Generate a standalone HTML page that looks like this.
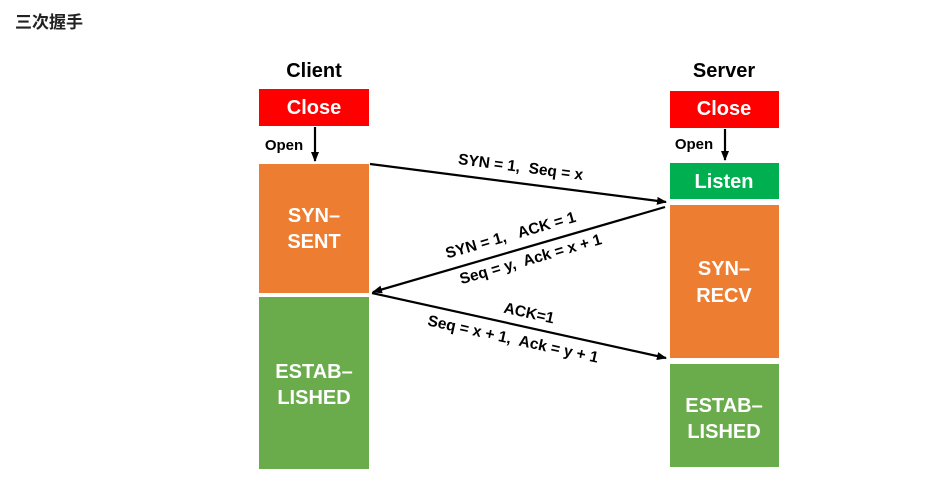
<!DOCTYPE html>
<html><head><meta charset="utf-8"><style>
body{margin:0;background:#fff;width:939px;height:478px;overflow:hidden}
text{white-space:pre}
</style></head><body>
<svg width="939" height="478" xmlns="http://www.w3.org/2000/svg" font-family="Liberation Sans, Noto Sans CJK SC, sans-serif">
<defs><marker id="a" markerWidth="10" markerHeight="8" refX="9" refY="4" orient="auto" markerUnits="userSpaceOnUse"><path d="M0,0 L10,4 L0,8 z" fill="#000"/></marker></defs>
<text x="15" y="28" font-size="17" font-weight="bold" fill="#222">三次握手</text>
<text x="314" y="77" font-size="20" text-anchor="middle" font-weight="bold">Client</text>
<text x="724" y="77" font-size="20" text-anchor="middle" font-weight="bold">Server</text>
<g font-weight="bold" fill="#fff" text-anchor="middle">
<rect x="259" y="89" width="110" height="37" fill="#ff0000"/><text x="314" y="114" font-size="20">Close</text>
<rect x="259" y="164" width="110" height="129" fill="#ed7d31"/><text x="314" y="222" font-size="20">SYN–</text><text x="314" y="248" font-size="20">SENT</text>
<rect x="259" y="297" width="110" height="172" fill="#6aac4c"/><text x="314" y="378" font-size="20">ESTAB–</text><text x="314" y="404" font-size="20">LISHED</text>
<rect x="670" y="91" width="109" height="37" fill="#ff0000"/><text x="724" y="115" font-size="20">Close</text>
<rect x="670" y="163" width="109" height="36" fill="#00b050"/><text x="724" y="188" font-size="20">Listen</text>
<rect x="670" y="205" width="109" height="153" fill="#ed7d31"/><text x="724" y="275" font-size="20">SYN–</text><text x="724" y="302" font-size="20">RECV</text>
<rect x="670" y="364" width="109" height="103" fill="#6aac4c"/><text x="724" y="412" font-size="20">ESTAB–</text><text x="724" y="438" font-size="20">LISHED</text>
</g>
<g stroke="#000" stroke-width="2.2" fill="none">
<line x1="315" y1="127" x2="315" y2="161" marker-end="url(#a)"/>
<line x1="725" y1="129" x2="725" y2="160" marker-end="url(#a)"/>
<line x1="370" y1="164" x2="666" y2="202" marker-end="url(#a)"/>
<line x1="665" y1="207" x2="373" y2="292" marker-end="url(#a)"/>
<line x1="372" y1="293" x2="666" y2="358" marker-end="url(#a)"/>
</g>
<g font-size="15.5" font-weight="bold" text-anchor="middle" fill="#000">
<text x="284" y="150" font-size="15">Open</text>
<text x="694" y="149" font-size="15">Open</text>
<text transform="translate(520,172) rotate(7.3)">SYN = 1,  Seq = x</text>
<text transform="translate(512,240) rotate(-16)">SYN = 1,   ACK = 1</text>
<text transform="translate(532,264) rotate(-16)">Seq = y,  Ack = x + 1</text>
<text transform="translate(528,318) rotate(12.4)">ACK=1</text>
<text transform="translate(512,344) rotate(12.4)">Seq = x + 1,  Ack = y + 1</text>
</g>
</svg>
</body></html>
